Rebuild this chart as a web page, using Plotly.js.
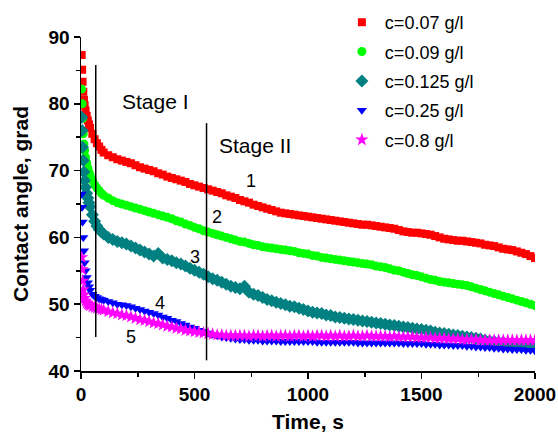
<!DOCTYPE html>
<html>
<head>
<meta charset="utf-8">
<script src="https://cdn.plot.ly/plotly-3.0.1.min.js"></script>
<style>html,body{margin:0;padding:0;background:#fff;}#chart{width:558px;height:433px;}</style>
</head>
<body>
<div id="chart"></div>
<script>
// Time, s
const time = [3,5,7,10,13,16,20,25,30,35,40,50,60,70,80,90,100,
  120,140,160,180,200,220,240,260,280,300,
  320,340,360,380,400,420,440,460,480,500,
  520,540,560,580,600,620,640,660,680,700,
  720,740,760,780,800,820,840,860,880,900,
  920,940,960,980,1000,1020,1040,1060,1080,1100,
  1120,1140,1160,1180,1200,1220,1240,1260,1280,1300,
  1320,1340,1360,1380,1400,1420,1440,1460,1480,1500,
  1520,1540,1560,1580,1600,1620,1640,1660,1680,1700,
  1720,1740,1760,1780,1800,1820,1840,1860,1880,1900,
  1920,1940,1960,1980,2000];

const seriesNames = ["c=0.07 g/l","c=0.09 g/l","c=0.125 g/l","c=0.25 g/l","c=0.8 g/l"];

const c007 = [87.3,85.1,83.3,81.8,80.6,79.8,79.0,78.2,77.5,76.9,76.4,75.5,74.7,74.1,73.6,73.1,72.7,
  72.3,72.0,71.7,71.5,71.3,71.1,70.8,70.5,70.3,70.1,
  69.9,69.6,69.4,69.1,68.9,68.7,68.5,68.3,68.0,67.8,
  67.6,67.4,67.2,67.0,66.8,66.6,66.3,66.1,65.9,65.6,
  65.4,65.2,64.9,64.7,64.5,64.3,64.1,63.9,63.7,63.6,
  63.5,63.4,63.3,63.2,63.1,63.0,62.9,62.8,62.7,62.6,
  62.5,62.4,62.3,62.2,62.1,62.0,61.9,61.9,61.8,61.7,
  61.6,61.5,61.4,61.3,61.1,60.9,60.8,60.7,60.7,60.6,
  60.5,60.4,60.2,60.0,59.8,59.7,59.6,59.5,59.5,59.4,
  59.3,59.2,59.1,58.9,58.8,58.7,58.5,58.3,58.2,58.1,
  57.9,57.7,57.5,57.2,56.9];

const c009 = [82.2,80.0,77.8,75.5,74.0,73.0,72.0,71.2,70.4,69.8,69.3,68.6,67.9,67.4,67.0,66.6,66.3,
  65.9,65.5,65.2,65.0,64.8,64.6,64.4,64.2,64.0,63.8,
  63.6,63.4,63.2,63.0,62.8,62.5,62.3,62.0,61.8,61.5,
  61.3,61.0,60.8,60.6,60.4,60.2,60.0,59.8,59.6,59.4,
  59.3,59.1,58.9,58.8,58.6,58.5,58.4,58.3,58.2,58.1,
  58.0,57.9,57.7,57.6,57.5,57.3,57.2,57.0,56.9,56.8,
  56.7,56.6,56.5,56.4,56.3,56.2,56.1,56.0,55.9,55.7,
  55.6,55.5,55.3,55.1,55.0,54.8,54.6,54.4,54.3,54.1,
  53.9,53.7,53.6,53.4,53.3,53.2,53.1,53.0,52.9,52.8,
  52.6,52.4,52.2,52.0,51.8,51.6,51.4,51.2,51.0,50.8,
  50.6,50.4,50.2,50.0,49.8];

const c0125 = [78.0,76.0,73.5,71.5,69.8,68.5,67.5,66.6,65.9,65.2,64.6,63.4,62.4,61.7,61.2,60.8,60.5,
  60.0,59.7,59.4,59.2,59.0,58.7,58.4,58.1,57.8,57.5,
  57.2,57.6,56.9,56.7,56.5,56.2,56.0,55.7,55.4,55.1,
  54.8,54.5,54.1,53.8,53.6,53.3,53.0,52.7,52.5,52.3,
  52.7,51.8,51.5,51.3,51.0,50.7,50.5,50.3,50.1,49.9,
  49.7,49.6,49.4,49.2,49.0,48.8,48.7,48.6,48.4,48.3,
  48.1,48.0,47.9,47.8,47.7,47.6,47.5,47.4,47.3,47.2,
  47.1,47.0,46.9,46.8,46.7,46.6,46.5,46.4,46.3,46.2,
  46.1,46.0,45.8,45.7,45.6,45.5,45.4,45.3,45.2,45.1,
  45.0,44.9,44.8,44.6,44.5,44.4,44.3,44.3,44.2,44.2,
  44.1,44.1,44.0,44.0,44.0];

const c025 = [66.5,64.5,62.3,60.0,58.0,56.2,55.0,54.0,53.2,52.6,52.1,51.5,51.2,51.0,50.8,50.7,50.6,
  50.4,50.2,50.0,49.9,49.8,49.6,49.4,49.2,49.0,48.8,
  48.6,48.4,48.1,47.9,47.6,47.4,47.1,46.9,46.6,46.4,
  46.1,45.9,45.7,45.5,45.3,45.1,45.0,44.9,44.8,44.7,
  44.7,44.6,44.6,44.6,44.5,44.5,44.5,44.5,44.4,44.4,
  44.4,44.4,44.4,44.4,44.4,44.4,44.3,44.3,44.3,44.3,
  44.3,44.3,44.3,44.3,44.3,44.2,44.2,44.2,44.2,44.2,
  44.2,44.2,44.2,44.2,44.2,44.1,44.1,44.1,44.1,44.1,
  44.0,44.0,44.0,43.9,43.9,43.9,43.8,43.8,43.8,43.7,
  43.7,43.6,43.6,43.5,43.5,43.4,43.4,43.3,43.3,43.2,
  43.2,43.2,43.1,43.1,43.0];

const c08 = [57.0,55.2,53.5,52.2,51.4,50.9,50.5,50.2,50.0,49.9,49.8,49.6,49.5,49.4,49.3,49.2,49.1,
  48.9,48.7,48.6,48.4,48.3,48.1,47.9,47.7,47.6,47.4,
  47.2,47.1,46.9,46.7,46.6,46.4,46.3,46.1,46.0,45.9,
  45.8,45.7,45.6,45.5,45.4,45.4,45.3,45.3,45.3,45.3,
  45.3,45.2,45.3,45.3,45.2,45.3,45.3,45.2,45.3,45.3,
  45.2,45.3,45.3,45.2,45.3,45.2,45.3,45.3,45.2,45.3,
  45.2,45.3,45.2,45.2,45.3,45.2,45.2,45.3,45.2,45.2,
  45.2,45.2,45.1,45.2,45.1,45.1,45.1,45.1,45.0,45.0,
  45.0,45.0,44.9,44.9,44.9,44.8,44.8,44.8,44.7,44.7,
  44.7,44.7,44.6,44.6,44.6,44.6,44.6,44.6,44.6,44.6,
  44.6,44.6,44.6,44.6,44.6];

// Stage boundary lines (time, angle range)
const stageLineTimes = [65, 553];
const stageLineTop = [85.8, 77.1];
const stageLineBottom = [45.1, 41.6];

// Text labels
const stageLabels = ["Stage I", "Stage II"];
const stageLabelX = [326, 767];
const stageLabelY = [80.4, 73.8];
const curveLabels = ["1","2","3","4","5"];
const curveLabelX = [749, 599, 502, 348, 220];
const curveLabelY = [68.5, 63.0, 57.1, 50.2, 45.1];

const FONT = "Liberation Sans, Arial, Helvetica, sans-serif";
const allY = [c007, c009, c0125, c025, c08];
const colors = ["#FF0000","#00FF00","#008080","#0000FF","#FF00FF"];
const symbols = ["square","circle","diamond","triangle-down","star"];
const sizes = [8, 9, 10, 9, 10];

const traces = allY.map((ys, i) => ({
  type: "scatter", mode: "markers", x: time, y: ys, name: seriesNames[i],
  legendgroup: "g" + i,
  marker: {color: colors[i], symbol: symbols[i], size: sizes[i], line: {width: 0}}
}));

stageLineTimes.forEach((t, i) => {
  traces.push({type: "scatter", mode: "lines", x: [t, t], y: [stageLineTop[i], stageLineBottom[i]],
    line: {color: "#000", width: 1.5}, showlegend: false, hoverinfo: "skip"});
});

const annotations = [];
stageLabels.forEach((s, i) => annotations.push({x: stageLabelX[i], y: stageLabelY[i], xref: "x", yref: "y",
  text: s, showarrow: false, font: {family: FONT, size: 21, color: "#000"}}));
curveLabels.forEach((s, i) => annotations.push({x: curveLabelX[i], y: curveLabelY[i], xref: "x", yref: "y",
  text: s, showarrow: false, font: {family: FONT, size: 18, color: "#000"}}));

const axisCommon = {
  showgrid: false, zeroline: false, showline: true, linecolor: "#000", linewidth: 1.5,
  ticks: "outside", ticklen: 6, tickwidth: 1.5, tickcolor: "#000",
  tickfont: {family: FONT, size: 19, color: "#000", weight: "bold"}
};

const layout = {
  width: 558, height: 433,
  margin: {l: 81, r: 23, t: 37, b: 62, pad: 0, autoexpand: false},
  paper_bgcolor: "#fff", plot_bgcolor: "#fff",
  showlegend: true,
  legend: {x: 0.568, y: 1.099, xanchor: "left", yanchor: "top", bgcolor: "rgba(0,0,0,0)",
    itemwidth: 36,
    font: {family: FONT, size: 18, color: "#000"}, traceorder: "grouped", tracegroupgap: 3},
  xaxis: Object.assign({}, axisCommon, {range: [0, 2000], tick0: 0, dtick: 500,
    minor: {dtick: 250, ticks: "outside", ticklen: 4, tickwidth: 1.5, tickcolor: "#000"},
    title: {text: "Time, s", standoff: 12, font: {family: FONT, size: 21, color: "#000", weight: "bold"}}}),
  yaxis: Object.assign({}, axisCommon, {range: [40, 90], tick0: 40, dtick: 10,
    minor: {dtick: 5, ticks: "outside", ticklen: 4, tickwidth: 1.5, tickcolor: "#000"},
    title: {text: "Contact angle, grad", standoff: 14, font: {family: FONT, size: 21, color: "#000", weight: "bold"}}}),
  annotations: annotations
};

Plotly.newPlot("chart", traces, layout, {displayModeBar: false, staticPlot: true});
</script>
</body>
</html>
